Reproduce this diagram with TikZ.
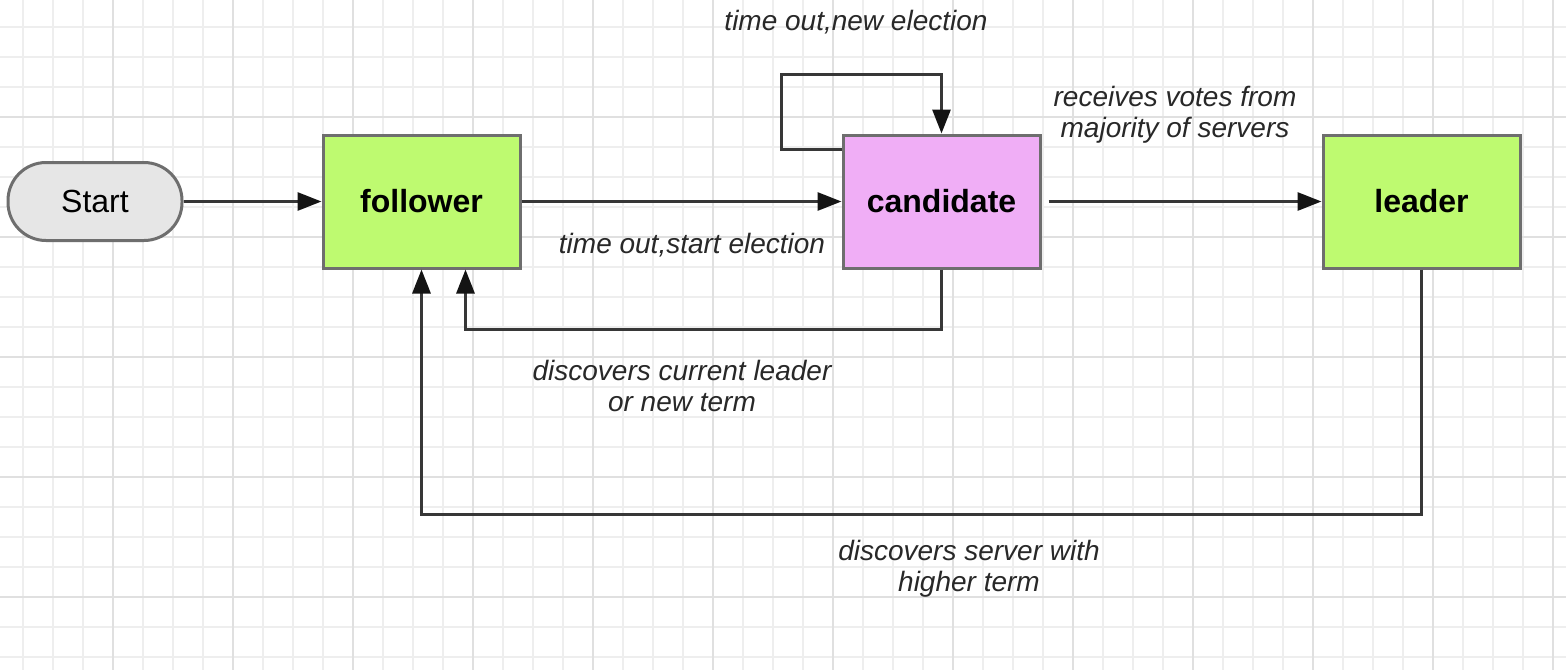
\documentclass[tikz,border=0pt]{standalone}
\usepackage{fontspec}
\setmainfont{Liberation Sans}
\usetikzlibrary{arrows.meta}
\usetikzlibrary{calc}

\definecolor{boxgreen}{RGB}{190,250,112}
\definecolor{boxpink}{RGB}{240,174,246}
\definecolor{startgray}{RGB}{230,230,230}
\definecolor{edgegray}{RGB}{110,110,110}
\definecolor{linegray}{RGB}{55,55,55}
\definecolor{tipblack}{RGB}{20,20,20}
\definecolor{textgray}{RGB}{40,40,40}
\definecolor{gridminor}{RGB}{238,238,238}
\definecolor{gridmajor}{RGB}{224,224,224}

\tikzset{
  state/.style={draw=edgegray, line width=3pt, minimum width=197pt, minimum height=133pt, inner sep=0pt, font=\fontsize{32}{38}\selectfont\bfseries},
  startnode/.style={draw=edgegray, line width=3pt, fill=startgray, rounded corners=38pt, minimum width=174pt, minimum height=78pt, font=\fontsize{32}{38}\selectfont},
  flow/.style={draw=linegray, line width=3pt, -{Triangle[length=24pt,width=18pt,color=tipblack]}},
  edgelabel/.style={text=textgray, align=center, font=\fontsize{28}{31.5}\selectfont\itshape, inner sep=0pt},
  gridline/.style={line width=1.5pt}
}

\begin{document}
\begin{tikzpicture}[x=1pt, y=-1pt]

% First, the sheet with its grid
\useasboundingbox (0,0) rectangle (1566,670);
\fill[white] (0,0) rectangle (1566,670);
\foreach \k in {0,...,51} { \draw[gridline, gridminor] ({23+30*\k},0) -- ({23+30*\k},670); }
\foreach \k in {0,...,21} { \draw[gridline, gridminor] (0,{27+30*\k}) -- (1566,{27+30*\k}); }
\foreach \k in {3,7,...,51} { \draw[gridline, gridmajor] ({23+30*\k},0) -- ({23+30*\k},670); }
\foreach \k in {3,7,...,19} { \draw[gridline, gridmajor] (0,{27+30*\k}) -- (1566,{27+30*\k}); }

% Then the states
\node[startnode] (start) at (95,201.5) {Start};
\node[state, fill=boxgreen] (follower) at (421.5,201.5) {follower};
\node[state, fill=boxpink] (candidate) at (941.5,201.5) {candidate};
\node[state, fill=boxgreen] (leader) at (1421.5,201.5) {leader};

% points where the loops leave and come back
\coordinate (loopout) at ($(candidate.west)+(0,-52)$);
\coordinate (candback) at ($(follower.south)+(44,0)$);

% Transitions
\draw[flow] (start) -- (follower);
\draw[flow] (follower) -- (candidate);
\draw[flow, shorten <=7pt] (candidate) -- (leader);
\draw[flow] (loopout) -- ++(-60,0) |- ($(candidate.north)+(0,-59)$) -- (candidate.north);
\draw[flow] (candidate.south) -- ++(0,60) -| (candback);
\draw[flow] (leader.south) -- ++(0,245) -| (follower.south);

% Labels of the transitions
\node[edgelabel] (lblnew) at (856,22) {time out,new election};
\node[edgelabel] (lblvotes) at (1175,115) {receives votes from\\majority of servers};
\node[edgelabel] (lblstart) at (692,245) {time out,start election};
\node[edgelabel] (lbldisc) at (682,386) {discovers current leader\\or new term};
\node[edgelabel] (lblhigher) at (969,569) {discovers server with\\higher term};

\end{tikzpicture}
\end{document}
